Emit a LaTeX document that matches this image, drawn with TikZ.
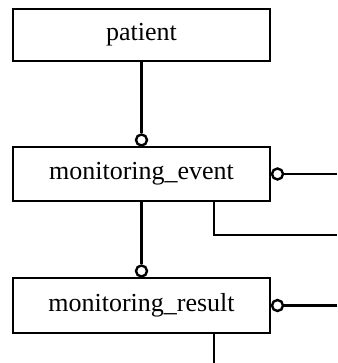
\documentclass[tikz,border=0pt]{standalone}
\usepackage{fontspec}
\setmainfont{Liberation Serif}
\begin{document}
\begin{tikzpicture}[x=1pt,y=-1pt,
  entity/.style={draw,line width=2.4pt,minimum width=257pt,inner sep=0pt,font=\fontsize{26}{29}\selectfont},
  opt/.style={draw,circle,line width=2.4pt,minimum size=11pt,inner sep=0pt,fill=white},
  link/.style={line width=2.4pt}]
\useasboundingbox (0,0) rectangle (337,363);
\node[entity,minimum height=52pt] (patient) at (141.5,35) {patient};
\node[entity,minimum height=54pt] (event) at (141.5,174) {monitoring\_event};
\node[entity,minimum height=55pt] (result) at (141.5,305.5) {monitoring\_result};
\node[opt] (c1) at (141.5,140) {};
\node[opt] (c2) at (277.5,174) {};
\node[opt] (c3) at (141.5,271) {};
\node[opt] (c4) at (277.5,305.5) {};
\coordinate (e1) at (337,174);
\coordinate (e2) at (337,235);
\coordinate (e3) at (337,305.5);
\coordinate (e4) at (214,363);
\draw[link] (patient.south) -- (c1.north);
\draw[link] (event.south) -- (c3.north);
\draw[link] (c2.east) -- (e1);
\draw[link] (c4.east) -- (e3);
\draw[link] ([xshift=72.5pt]event.south) |- (e2);
\draw[link] ([xshift=72.5pt]result.south) -- (e4);
\end{tikzpicture}
\end{document}
